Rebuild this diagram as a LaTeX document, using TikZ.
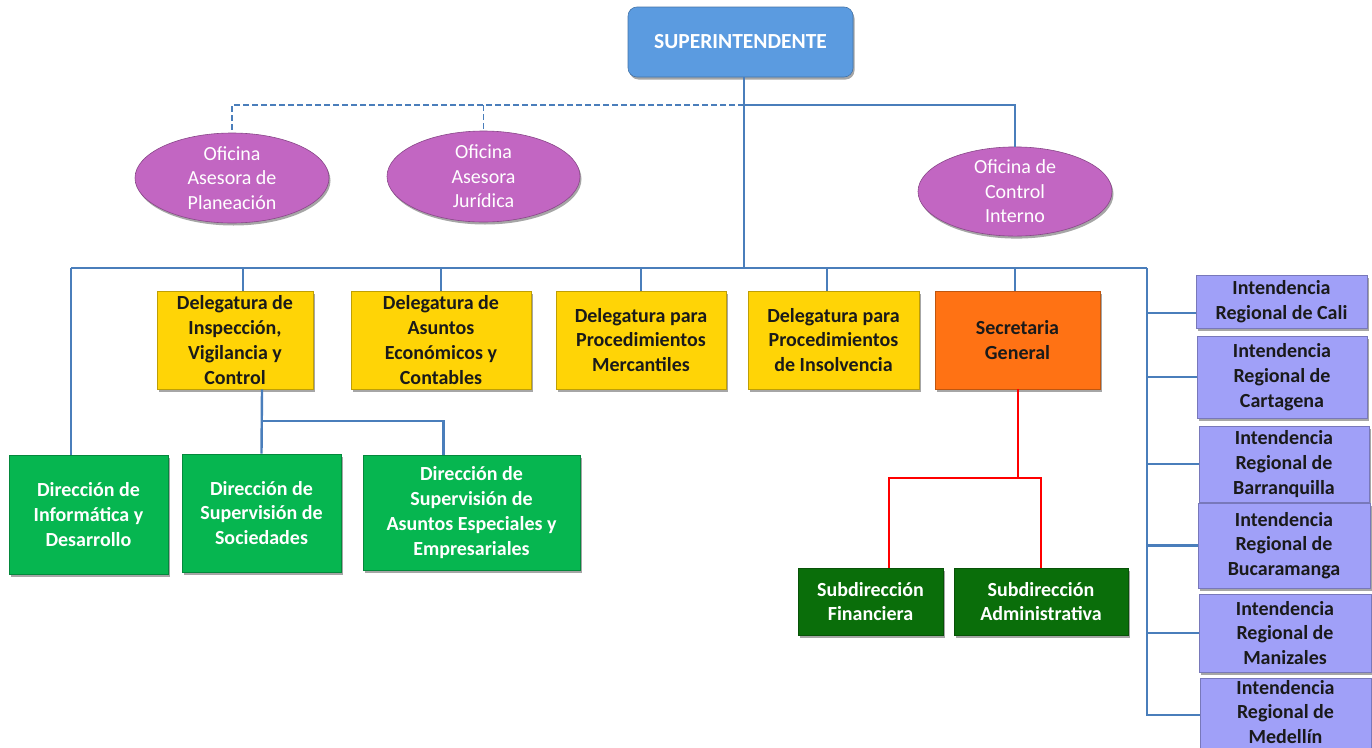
\documentclass[tikz,border=0pt]{standalone}
\usepackage{fontspec}
\setmainfont{Carlito}
\usetikzlibrary{shadows,positioning,calc,shapes.geometric}
\definecolor{cblue}{HTML}{5B9BE0}
\definecolor{cpurple}{HTML}{C266C2}
\definecolor{cyellow}{HTML}{FFD406}
\definecolor{corange}{HTML}{FF7214}
\definecolor{cgreen}{HTML}{06B650}
\definecolor{cdgreen}{HTML}{0A6E0A}
\definecolor{clav}{HTML}{A0A0F8}
\definecolor{cline}{HTML}{4A7EBB}
\definecolor{ctext}{HTML}{1A1A1A}
\tikzset{
  shd/.style={drop shadow={shadow xshift=1.5pt,shadow yshift=-2.5pt,opacity=0.35,fill=black}},
  boxbase/.style={draw=#1!75!black,fill=#1,line width=0.6pt,inner sep=0pt,align=center,shd,
    font=\fontsize{20}{24.8}\selectfont\bfseries},
  ybox/.style={boxbase=cyellow,text=ctext},
  obox/.style={boxbase=corange,text=ctext},
  gbox/.style={boxbase=cgreen,text=white},
  dgbox/.style={boxbase=cdgreen,text=white},
  ibox/.style={boxbase=clav,text=ctext},
  topbox/.style={draw=cblue!75!black,fill=cblue,line width=0.6pt,rounded corners=9pt,shd,text=white,
    font=\fontsize{21.5}{26}\selectfont\bfseries,inner sep=0pt},
  oval/.style={ellipse,draw=cpurple!70!black,fill=cpurple,line width=0.6pt,shd,text=white,inner sep=0pt,align=center,
    font=\fontsize{20}{24.5}\selectfont},
  conn/.style={draw=cline,line width=2.4pt},
  dconn/.style={draw=cline,line width=1.8pt,dash pattern=on 6pt off 3pt},
  rconn/.style={draw=red,line width=2.4pt},
}
\begin{document}
\begin{tikzpicture}[x=1pt,y=-1pt]
\useasboundingbox (0,0) rectangle (1372,747);
\fill[white] (0,0) rectangle (1372,747);

% coordinates
\coordinate (j1) at (744,105);
\coordinate (j2) at (744,268);
\coordinate (busL) at (71,268);
\coordinate (busR) at (1147,268);
\coordinate (s1) at (262,421);
\coordinate (r1) at (1018,478);

% nodes
\node[topbox,minimum width=225pt,minimum height=70pt] (super) at (740.5,42) {SUPERINTENDENTE};

\node[oval,minimum width=194pt,minimum height=90pt] (ell1) at (232,178) {Oficina\\Asesora de\\Planeación};
\node[oval,minimum width=193pt,minimum height=91pt] (ell2) at (483.5,176.5) {Oficina\\Asesora\\Jurídica};
\node[oval,minimum width=194pt,minimum height=89pt] (ell3) at (1015,191.5) {Oficina de\\Control\\Interno};

\node[ybox,minimum width=156pt,minimum height=98pt] (Y1) at (235,340) {Delegatura de\\Inspección,\\Vigilancia y\\Control};
\node[ybox,minimum width=180pt,minimum height=98pt] (Y2) at (441,340) {Delegatura de\\Asuntos\\Económicos y\\Contables};
\node[ybox,minimum width=170pt,minimum height=98pt] (Y3) at (641,340) {Delegatura para\\Procedimientos\\Mercantiles};
\node[ybox,minimum width=171pt,minimum height=98pt] (Y4) at (833.5,340) {Delegatura para\\Procedimientos\\de Insolvencia};
\node[obox,minimum width=165pt,minimum height=98pt] (Org) at (1017.5,340) {Secretaria\\General};

\node[gbox,minimum width=159pt,minimum height=119pt] (G1) at (88.5,514.5) {Dirección de\\Informática y\\Desarrollo};
\node[gbox,minimum width=159pt,minimum height=118pt] (G2) at (261.5,513) {Dirección de\\Supervisión de\\Sociedades};
\node[gbox,minimum width=217pt,minimum height=115pt] (G3) at (471.5,512.5) {Dirección de\\Supervisión de\\Asuntos Especiales y\\Empresariales};

\node[dgbox,minimum width=145pt,minimum height=67pt] (DG1) at (870.5,601.5) {Subdirección\\Financiera};
\node[dgbox,minimum width=174pt,minimum height=67pt] (DG2) at (1041,601.5) {Subdirección\\Administrativa};

\node[ibox,minimum width=171pt,minimum height=53pt] (I1) at (1281.5,301.5) {Intendencia\\Regional de Cali};
\node[ibox,minimum width=170pt,minimum height=82pt] (I2) at (1282,377) {Intendencia\\Regional de\\Cartagena};
\node[ibox,minimum width=170pt,minimum height=76pt] (I3) at (1284,464) {Intendencia\\Regional de\\Barranquilla};
\node[ibox,minimum width=172pt,minimum height=85pt] (I4) at (1284,545.5) {Intendencia\\Regional de\\Bucaramanga};
\node[ibox,minimum width=172pt,minimum height=78pt] (I5) at (1285,633) {Intendencia\\Regional de\\Manizales};
\node[ibox,minimum width=171pt,minimum height=74pt] (I6) at (1285.5,715) {};
\node[font=\fontsize{20}{24.8}\selectfont\bfseries,text=ctext,align=center,inner sep=0pt] (I6t) at (1285.5,712) {Intendencia\\Regional de\\Medellín};

% connectors
\draw[conn] (super.south -| j1) -- (j2);
\draw[dconn] (j1) -| (ell1.north);
\draw[dconn] (ell2.north |- j1) -- (ell2.north);
\draw[conn] (j1) -| (ell3.north);
\draw[conn] (busL) -- (busR);
\draw[conn] (busL) -- (busL |- G1.north);
\draw[conn] ([xshift=8pt]Y1.north |- busL) -- ([xshift=8pt]Y1.north);
\draw[conn] (Y2.north |- busL) -- (Y2.north);
\draw[conn] (Y3.north |- busL) -- (Y3.north);
\draw[conn] ([xshift=-6.5pt]Y4.north |- busL) -- ([xshift=-6.5pt]Y4.north);
\draw[conn] ([xshift=-2.5pt]Org.north |- busL) -- ([xshift=-2.5pt]Org.north);
\draw[conn] (busR) -- (busR |- I6.west) -- (I6.west);
\draw[conn] (busR |- 0,313) -- (I1.west |- 0,313);
\draw[conn] (busR |- I2.west) -- (I2.west);
\draw[conn] (busR |- I3.west) -- (I3.west);
\draw[conn] (busR |- I4.west) -- (I4.west);
\draw[conn] (busR |- I5.west) -- (I5.west);
\draw[conn] (s1 |- Y1.south) -- (G2.north);
\draw[conn] (G2.north |- s1) -| ([xshift=-28pt]G3.north);
\draw[rconn] (r1 |- Org.south) -- (r1) -| ([xshift=18.5pt]DG1.north);
\draw[rconn] (r1) -| (DG2.north);
\end{tikzpicture}
\end{document}
